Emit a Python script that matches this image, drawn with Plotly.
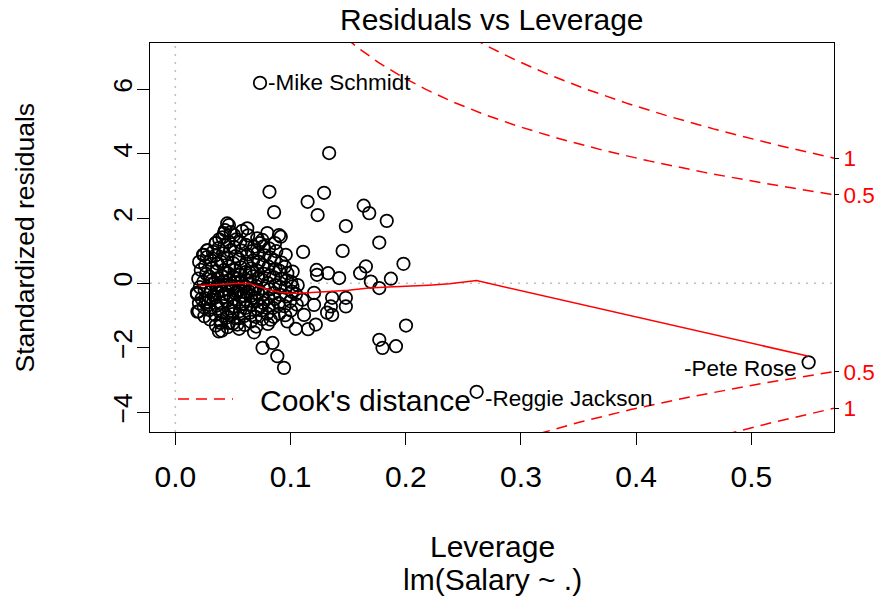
import numpy as np
import plotly.graph_objects as go

# Residuals vs leverage diagnostic for lm(Salary ~ .) fitted to the Hitters data
leverage = [
    # dense core of low-leverage players
    0.0192, 0.0205, 0.0188, 0.0213, 0.0199, 0.0221, 0.0207, 0.0240,
    0.0252, 0.0247, 0.0262, 0.0255, 0.0243, 0.0268, 0.0259, 0.0273, 0.0277,
    0.0301, 0.0296, 0.0312, 0.0305, 0.0318, 0.0294, 0.0322, 0.0308, 0.0327, 0.0350,
    0.0352, 0.0347, 0.0361, 0.0344, 0.0368, 0.0356, 0.0340, 0.0372, 0.0359, 0.0366, 0.0348, 0.0375, 0.0381,
    0.0402, 0.0395, 0.0411, 0.0398, 0.0419, 0.0405, 0.0391, 0.0416, 0.0408, 0.0423, 0.0397, 0.0414, 0.0426, 0.0409, 0.0432,
    0.0453, 0.0447, 0.0461, 0.0444, 0.0468, 0.0455, 0.0449, 0.0472, 0.0458, 0.0466, 0.0451, 0.0475, 0.0462, 0.0481,
    0.0502, 0.0496, 0.0512, 0.0505, 0.0518, 0.0499, 0.0521, 0.0508, 0.0515, 0.0503, 0.0524, 0.0511, 0.0529,
    0.0553, 0.0547, 0.0561, 0.0556, 0.0566, 0.0549, 0.0571, 0.0558, 0.0568, 0.0552, 0.0575, 0.0563, 0.0580,
    0.0604, 0.0598, 0.0613, 0.0607, 0.0619, 0.0601, 0.0622, 0.0609, 0.0616, 0.0626, 0.0611, 0.0632,
    0.0654, 0.0648, 0.0661, 0.0657, 0.0668, 0.0651, 0.0672, 0.0659, 0.0676, 0.0664,
    0.0703, 0.0697, 0.0712, 0.0706, 0.0718, 0.0701, 0.0721, 0.0709, 0.0725, 0.0714, 0.0731,
    0.0754, 0.0748, 0.0762, 0.0757, 0.0768, 0.0751, 0.0771, 0.0759, 0.0776, 0.0765,
    0.0803, 0.0797, 0.0812, 0.0806, 0.0818, 0.0801, 0.0821, 0.0809, 0.0826,
    0.0853, 0.0847, 0.0862, 0.0856, 0.0868, 0.0851, 0.0871, 0.0859, 0.0876, 0.0865,
    0.0903, 0.0897, 0.0912, 0.0906, 0.0918, 0.0901, 0.0921,
    0.0953, 0.0947, 0.0962, 0.0956, 0.0968, 0.0951,
    0.1003, 0.0997, 0.1012, 0.1006, 0.1018,
    0.1053, 0.1047, 0.1062,
    # extra players filling the heart of the cluster
    0.0286, 0.0334, 0.0379, 0.0427, 0.0488, 0.0536, 0.0589, 0.0637, 0.0688, 0.0741,
    0.0318, 0.0371, 0.0437, 0.0491, 0.0542, 0.0594, 0.0645, 0.0693, 0.0227, 0.0263,
    # more spread-out players
    0.1335, 0.1291, 0.1148, 0.0817, 0.0857, 0.1235, 0.1635, 0.1683, 0.1835, 0.1480,
    0.1770, 0.1109, 0.1452, 0.1980, 0.1654, 0.1604, 0.1697, 0.1871, 0.1770, 0.1226,
    0.1230, 0.1326, 0.1422, 0.1204, 0.1480, 0.1361, 0.1350, 0.1361, 0.1317, 0.1480,
    0.1204, 0.1103, 0.1117, 0.1219, 0.1152, 0.2002, 0.1770, 0.1798, 0.1915, 0.0943,
    0.0885, 0.0843, 0.0757, 0.0683, 0.1045, 0.0828, 0.0972, 0.1016, 0.0378, 0.0393,
    0.0204, 0.0537, 0.0465, 0.0624, 0.0798, 0.0915, 0.0958, 0.0813, 0.0711, 0.0972,
    0.0450, 0.0277, 0.0350, 0.0509, 0.0422, 0.0248, 0.0465, 0.0900, 0.0755, 0.0683,
    0.0187,
]

std_resid = [
    -0.88, -0.62, -0.34, -0.12, 0.14, 0.41, 0.66, 0.88,
    -1.02, -0.74, -0.47, -0.21, 0.04, 0.29, 0.55, 0.81, 1.02,
    -1.12, -0.83, -0.52, -0.26, -0.03, 0.21, 0.46, 0.72, 0.97, 1.24,
    -1.31, -0.98, -0.69, -0.44, -0.29, -0.14, 0.02, 0.16, 0.37, 0.61, 0.86, 1.09, 1.36,
    -1.47, -1.16, -0.91, -0.61, -0.42, -0.24, -0.09, 0.06, 0.22, 0.41, 0.66, 0.92, 1.17, 1.42, 1.64,
    -1.36, -1.06, -0.79, -0.56, -0.36, -0.19, -0.04, 0.11, 0.31, 0.52, 0.76, 1.01, 1.29, 1.58,
    -1.24, -0.96, -0.71, -0.49, -0.31, -0.16, 0.01, 0.19, 0.41, 0.62, 0.84, 1.12, 1.36,
    -1.41, -1.09, -0.86, -0.59, -0.41, -0.21, 0.04, 0.26, 0.49, 0.74, 1.01, 1.27, 1.62,
    -1.29, -1.01, -0.76, -0.51, -0.29, -0.11, 0.09, 0.34, 0.61, 0.89, 1.19, 1.48,
    -1.19, -0.91, -0.66, -0.39, -0.21, -0.01, 0.21, 0.46, 0.71, 0.99,
    -1.34, -1.04, -0.81, -0.54, -0.31, -0.09, 0.16, 0.39, 0.66, 0.94, 1.24,
    -1.11, -0.84, -0.61, -0.34, -0.16, 0.11, 0.29, 0.56, 0.86, 1.14,
    -1.26, -0.94, -0.69, -0.46, -0.19, 0.01, 0.24, 0.51, 0.79,
    -1.04, -0.76, -0.49, -0.31, -0.06, 0.19, 0.44, 0.71, 0.99, 1.24,
    -0.94, -0.61, -0.36, -0.11, 0.14, 0.39, 0.64,
    -0.99, -0.71, -0.41, -0.14, 0.09, 0.51,
    -0.84, -0.56, -0.26, 0.04, 0.36,
    -0.66, -0.34, -0.06,
    -0.58, -0.37, -0.05, -0.33, -0.08, -0.27, -0.64, -0.25, -0.45, -0.72,
    0.09, -0.79, 0.31, -0.87, 0.14, -0.38, 0.33, -0.19, -0.48, -0.61,
    4.03, 2.80, 2.52, 2.83, 2.20, 2.11, 2.40, 2.17, 1.93, 1.77,
    1.26, 0.97, 1.00, 0.60, 0.52, 0.31, 0.05, 0.14, -0.15, 0.41,
    0.26, 0.31, 0.16, -0.30, -0.45, -0.45, -0.72, -0.98, -0.91, -0.72,
    -0.67, -0.51, -0.98, -1.28, -1.42, -1.31, -1.75, -2.00, -1.95, -2.62,
    -2.26, -1.85, -2.00, -1.52, -1.41, -1.13, -1.18, -0.10, -1.49, -1.23,
    -0.87, -1.28, -1.23, 1.70, 1.55, 1.44, 0.88, 1.08, 1.39, 0.31,
    1.85, 1.02, 1.24, 1.49, 1.55, 0.88, 1.80, 1.49, 1.34, 1.13,
    -0.30,
]

# The three most extreme observations, labelled by row name
id_names = ["-Mike Schmidt", "-Reggie Jackson", "-Pete Rose"]
id_leverage = [0.0735, 0.2615, 0.5497]
id_resid = [6.20, -3.36, -2.45]

# Lowess smooth of standardized residuals on leverage
smooth_leverage = [0.020, 0.035, 0.050, 0.055, 0.064, 0.072, 0.081, 0.090, 0.099, 0.107,
                   0.120, 0.1335, 0.150, 0.168, 0.185, 0.203, 0.220, 0.238, 0.2615, 0.5497]
smooth_resid = [-0.08, -0.04, -0.01, 0.00, -0.01, -0.10, -0.20, -0.27, -0.31, -0.31,
                -0.29, -0.26, -0.22, -0.15, -0.12, -0.10, -0.06, -0.02, 0.08, -2.26]

# Cook's distance contours: number of coefficients and contour levels
n_coef = 20
cook_levels = [0.5, 1.0]

X_RANGE = [-0.022, 0.5717]
Y_RANGE = [-4.605, 7.435]
W, H = 875, 597
M_L, M_R, M_T, M_B = 150, 41, 43, 165
FONT = "Liberation Sans, Arial, Helvetica, sans-serif"
BASE = 30
VERT = 26.5
RED = "#ff0000"


def paper_x(px):
    return (px - M_L) / (W - M_L - M_R)


def paper_y(py):
    return (H - M_B - py) / (H - M_T - M_B)


fig = go.Figure()

# Cook's distance contours (drawn against the right-hand axis)
hh = np.linspace(0.004, X_RANGE[1], 400)
for level in cook_levels:
    curve = np.sqrt(level * n_coef * (1 - hh) / hh)
    for sign in (1, -1):
        fig.add_trace(go.Scatter(
            x=hh, y=sign * curve, mode="lines", yaxis="y2",
            line=dict(color=RED, width=1.5, dash="11px,7px"),
            hoverinfo="skip", showlegend=False))

point_marker = dict(symbol="circle-open", size=12.5, color="black", line=dict(width=1.75))

fig.add_trace(go.Scatter(
    x=leverage, y=std_resid, mode="markers", marker=point_marker, showlegend=False))

fig.add_trace(go.Scatter(
    x=id_leverage, y=id_resid, mode="markers", text=id_names,
    marker=point_marker, showlegend=False))

fig.add_trace(go.Scatter(
    x=smooth_leverage, y=smooth_resid, mode="lines",
    line=dict(color=RED, width=1.5), showlegend=False))

# Right-hand axis labels for the contour levels, read at the right edge
edge = X_RANGE[1]
aty = [float(np.sqrt(lv * n_coef * (1 - edge) / edge)) for lv in cook_levels]
right_vals = [aty[1], aty[0], -aty[0], -aty[1]]
right_text = [f"{cook_levels[1]:g}", f"{cook_levels[0]:g}", f"{cook_levels[0]:g}", f"{cook_levels[1]:g}"]

shapes = [
    dict(type="line", xref="x", yref="paper", x0=0, x1=0, y0=0, y1=1,
         line=dict(color="#bebebe", width=1.5, dash="2px,6px"), layer="below"),
    dict(type="line", xref="paper", yref="y", x0=0, x1=1, y0=0, y1=0,
         line=dict(color="#bebebe", width=1.5, dash="2px,6px"), layer="below"),
    # legend key
    dict(type="line", xref="paper", yref="paper",
         x0=paper_x(178), x1=paper_x(233), y0=paper_y(399), y1=paper_y(399),
         line=dict(color=RED, width=1.5, dash="11px,7px")),
]

annotations = [
    dict(text="Residuals vs Leverage", xref="paper", yref="paper", x=0.5, y=paper_y(20),
         showarrow=False, font=dict(size=BASE), xanchor="center", yanchor="middle"),
    dict(text="Leverage", xref="paper", yref="paper", x=0.5, y=paper_y(546),
         showarrow=False, font=dict(size=BASE), xanchor="center", yanchor="middle"),
    dict(text="lm(Salary ~ .)", xref="paper", yref="paper", x=0.5, y=paper_y(579),
         showarrow=False, font=dict(size=BASE), xanchor="center", yanchor="middle"),
    dict(text="Standardized residuals", xref="paper", yref="paper", x=paper_x(24), y=0.5,
         textangle=-90, showarrow=False, font=dict(size=VERT), xanchor="center", yanchor="middle"),
    dict(text="Cook's distance", xref="paper", yref="paper", x=paper_x(258), y=paper_y(400),
         showarrow=False, font=dict(size=BASE), xanchor="left", yanchor="middle"),
]

label_shift = [(6, 0), (6, -7), (-10, -6)]
for name, hx, ry, (dx, dy) in zip(id_names, id_leverage, id_resid, label_shift):
    annotations.append(dict(
        text=name, x=hx, y=ry, xref="x", yref="y", showarrow=False,
        xanchor="left" if dx > 0 else "right", yanchor="middle",
        xshift=dx, yshift=dy, font=dict(size=BASE * 0.75)))

fig.update_layout(
    width=W, height=H,
    margin=dict(l=M_L, r=M_R, t=M_T, b=M_B, autoexpand=False),
    paper_bgcolor="white", plot_bgcolor="white",
    font=dict(family=FONT, color="black", size=BASE),
    shapes=shapes, annotations=annotations,
    xaxis=dict(range=X_RANGE, tickvals=[0, 0.1, 0.2, 0.3, 0.4, 0.5],
               ticktext=["0.0", "0.1", "0.2", "0.3", "0.4", "0.5"],
               ticks="outside", ticklen=12, tickwidth=1.2, tickcolor="black",
               showline=True, linecolor="black", linewidth=1.2, mirror=True,
               showgrid=False, zeroline=False, ticklabelstandoff=6,
               automargin=False, tickfont=dict(size=BASE)),
    yaxis=dict(range=Y_RANGE, tickvals=[-4, -2, 0, 2, 4, 6],
               ticks="outside", ticklen=12, tickwidth=1.2, tickcolor="black",
               showline=True, linecolor="black", linewidth=1.2, mirror=True,
               showgrid=False, zeroline=False, tickangle=-90, ticklabelstandoff=-6,
               automargin=False, tickfont=dict(size=VERT)),
    yaxis2=dict(range=Y_RANGE, overlaying="y", side="right",
                tickvals=right_vals, ticktext=right_text,
                ticks="outside", ticklen=4, tickcolor="black",
                showline=False, showgrid=False, zeroline=False, automargin=False,
                tickfont=dict(size=BASE * 0.75, color=RED)),
)

fig.write_html("out.html")
